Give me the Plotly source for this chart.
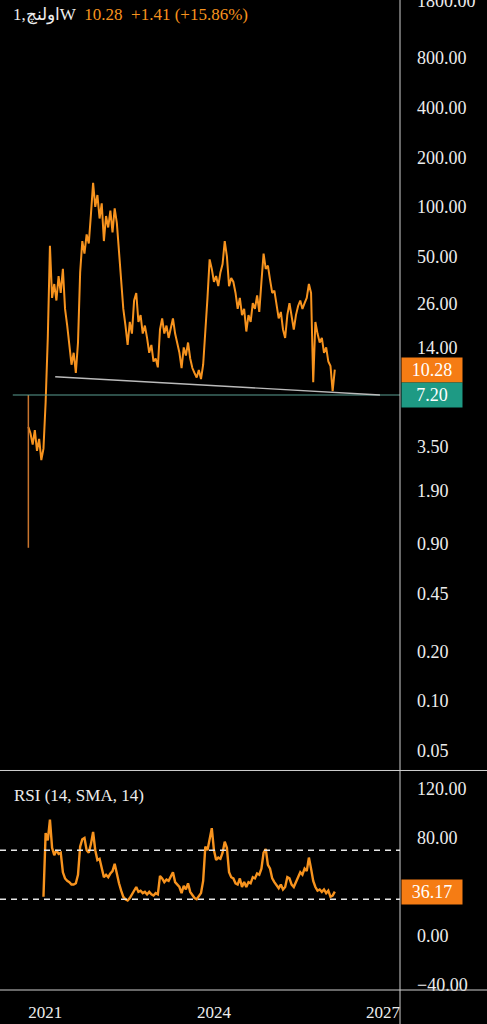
import math
import pandas as pd
import plotly.graph_objects as go

# ---------------- data ----------------
start_date = "2020-09-14"          # first bar, bi-weekly sampling
price = [
    4.6, 4.2, 3.6, 4.4, 3.3, 3.9, 2.9, 3.4,
    6.5, 16, 58, 28, 34, 27, 38, 30,
    42, 24, 19, 14, 11, 13, 9.8, 15,
    40, 62, 52, 68, 60, 90, 140, 100,
    118, 85, 105, 62, 88, 75, 95, 70,
    98, 80, 52, 34, 24, 19, 14.5, 20,
    17, 27, 30, 20, 22, 17, 19, 16,
    13, 14.5, 11.5, 12, 10.6, 18, 21, 17,
    19, 16, 18, 21, 17, 15, 13, 10.5,
    14, 12.5, 15, 12, 10.5, 9.8, 9.2, 10.2,
    9.0, 11, 17, 28, 48, 42, 35, 38,
    33, 40, 45, 62, 50, 33, 37, 35,
    30, 24, 28, 22, 24, 17.5, 22, 20,
    26, 24, 29, 23, 35, 52, 42, 44,
    36, 30, 31, 25, 21, 23, 18, 16,
    22, 26, 21, 18, 22, 25, 27, 24,
    26, 28, 34, 30, 8.6, 20, 17, 15,
    16, 13, 14, 11.5, 10.8, 7.6, 10.28,
]
rsi = [
    32, 84, 78, 95, 72, 66, 70, 67,
    68, 52, 47, 45, 44, 42, 42, 43,
    50, 73, 79, 80, 70, 68, 75, 85,
    70, 62, 63, 55, 48, 50, 48, 51,
    53, 59, 50, 43, 37, 32, 30, 29,
    31, 34, 38, 40, 36, 37, 35, 36,
    34, 36, 34, 33, 35, 34, 49, 47,
    44, 46, 45, 48, 52, 44, 42, 40,
    35, 41, 38, 43, 36, 33, 31, 30,
    33, 35, 45, 73, 70, 80, 88, 70,
    62, 64, 63, 68, 77, 72, 52, 48,
    47, 43, 42, 47, 40, 44, 40, 44,
    43, 48, 47, 51, 50, 55, 68, 71,
    58, 55, 47, 44, 41, 39, 42, 38,
    40, 48, 47, 42, 40, 44, 49, 52,
    50, 55, 53, 64, 55, 45, 40, 37,
    38, 36, 38, 35, 37, 32, 33, 36.17,
]
first_wick = [0.85, 7.2]            # low/high of the first weekly bar
level_value = 7.20
level_start = "2020-06-05"
trend_dates = ["2021-03-07", "2026-12-13"]
trend_values = [9.3, 7.2]
last_price = 10.28
last_rsi = 36.17
change_text = "+1.41 (+15.86%)"
rsi_upper, rsi_lower = 70, 30

price_ticks = [0.05, 0.1, 0.2, 0.45, 0.9, 1.9, 3.5, 14, 26, 50, 100, 200, 400, 800, 1800]
rsi_ticks = [-40, 0, 80, 120]
year_ticks = ["2021-01-01", "2024-01-01", "2027-01-01"]
year_labels = ["2021", "2024", "2027"]

x_range = ["2020-03-14", "2027-04-22"]
price_range = [0.0380, 1805]
rsi_range = [-44.1, 134.7]

# ---------------- styling ----------------
W, H = 487, 1024
ORANGE = "#F7931E"
TEAL = "#1E9A84"
FONT = "Liberation Serif"
TXT = "#EDEDED"

dates = pd.date_range(start_date, periods=len(price), freq="14D")
rsi_dates = dates[len(price) - len(rsi):]

xr = 400 / W
price_dom = [1 - 770 / H, 1]
rsi_dom = [1 - 990 / H, 1 - 771 / H]

fig = go.Figure()
fig.add_trace(go.Scatter(x=dates, y=price, mode="lines",
                         line=dict(color=ORANGE, width=2.0), xaxis="x", yaxis="y",
                         hoverinfo="skip"))
fig.add_trace(go.Scatter(x=[dates[0], dates[0]], y=first_wick, mode="lines",
                         line=dict(color="#C8742E", width=1.5), xaxis="x", yaxis="y",
                         hoverinfo="skip"))
fig.add_trace(go.Scatter(x=[level_start, x_range[1]], y=[level_value, level_value], mode="lines",
                         line=dict(color="#5A9E92", width=1.2), xaxis="x", yaxis="y",
                         hoverinfo="skip"))
fig.add_trace(go.Scatter(x=trend_dates, y=trend_values, mode="lines",
                         line=dict(color="#BBBBBB", width=1.4), xaxis="x", yaxis="y",
                         hoverinfo="skip"))
fig.add_trace(go.Scatter(x=rsi_dates, y=rsi, mode="lines",
                         line=dict(color=ORANGE, width=2.4), xaxis="x2", yaxis="y2",
                         hoverinfo="skip"))

axis_font = dict(family=FONT, size=18, color=TXT)

fig.update_layout(
    width=W, height=H,
    margin=dict(l=0, r=0, t=0, b=0),
    paper_bgcolor="#000000", plot_bgcolor="#000000",
    showlegend=False,
    xaxis=dict(domain=[0, xr], range=x_range, type="date", anchor="y",
               showticklabels=False, showgrid=False, zeroline=False, showline=False),
    xaxis2=dict(domain=[0, xr], range=x_range, type="date", anchor="y2", matches="x",
                tickvals=year_ticks, ticktext=year_labels, ticks="",
                tickfont=dict(family=FONT, size=17, color=TXT), ticklabelstandoff=10,
                ticklabeloverflow="allow",
                showgrid=False, zeroline=False, showline=False),
    yaxis=dict(domain=price_dom, type="log",
               range=[math.log10(price_range[0]), math.log10(price_range[1])],
               side="right", anchor="x", tickvals=price_ticks,
               ticktext=[f"{v:.2f}" for v in price_ticks], ticks="",
               tickfont=axis_font, ticklabelstandoff=16, ticklabeloverflow="allow",
               showgrid=False, zeroline=False, showline=False, automargin=False),
    yaxis2=dict(domain=rsi_dom, range=rsi_range, side="right", anchor="x2",
                tickvals=rsi_ticks,
                ticktext=[(f"{v:.2f}" if v >= 0 else "\u2212" + f"{abs(v):.2f}") for v in rsi_ticks],
                ticks="", tickfont=axis_font, ticklabelstandoff=16, ticklabeloverflow="allow",
                showgrid=False, zeroline=False, showline=False, automargin=False),
)

# pane separators
line_col = "#CFCFCF"
fig.add_shape(type="line", xref="paper", yref="paper", x0=xr, x1=xr, y0=0, y1=1,
              line=dict(color=line_col, width=1))
fig.add_shape(type="line", xref="paper", yref="paper", x0=0, x1=1, y0=rsi_dom[1] + 0.0005,
              y1=rsi_dom[1] + 0.0005, line=dict(color=line_col, width=1))
fig.add_shape(type="line", xref="paper", yref="paper", x0=0, x1=1, y0=rsi_dom[0],
              y1=rsi_dom[0], line=dict(color=line_col, width=1))

# RSI band lines
for lvl in (rsi_upper, rsi_lower):
    fig.add_shape(type="line", xref="x2 domain", yref="y2", x0=0, x1=1, y0=lvl, y1=lvl,
                  line=dict(color="#E6E6E6", width=1.3, dash="6px,5px"))

# title
fig.add_annotation(xref="paper", yref="paper", x=11 / W, y=1 - 15 / H,
                   xanchor="left", yanchor="middle", showarrow=False,
                   text=(f'<span style="color:{TXT}">1,اولنچW</span>&nbsp;&nbsp;'
                         f'<span style="color:{ORANGE}">{last_price:.2f}&nbsp;&nbsp;{change_text}</span>'),
                   font=dict(family=FONT, size=17))

# RSI label
fig.add_annotation(xref="paper", yref="paper", x=12 / W, y=1 - 795 / H,
                   xanchor="left", yanchor="middle", showarrow=False,
                   text="RSI (14, SMA, 14)", font=dict(family=FONT, size=17, color=TXT))

# price-scale boxes
def box(text, yref, yval, color):
    fig.add_annotation(xref="paper", yref=yref, x=401 / W, y=yval,
                       xanchor="left", yanchor="middle", showarrow=False,
                       text=text, bgcolor=color, borderpad=1, width=58, height=22,
                       align="center", font=dict(family=FONT, size=18, color="#FFFFFF"))

box(f"{last_price:.2f}", "y", math.log10(last_price), "#F57C14")
box(f"{level_value:.2f}", "y", math.log10(level_value), TEAL)
box(f"{last_rsi:.2f}", "y2", last_rsi, "#F57C14")

fig.write_html("out.html")
